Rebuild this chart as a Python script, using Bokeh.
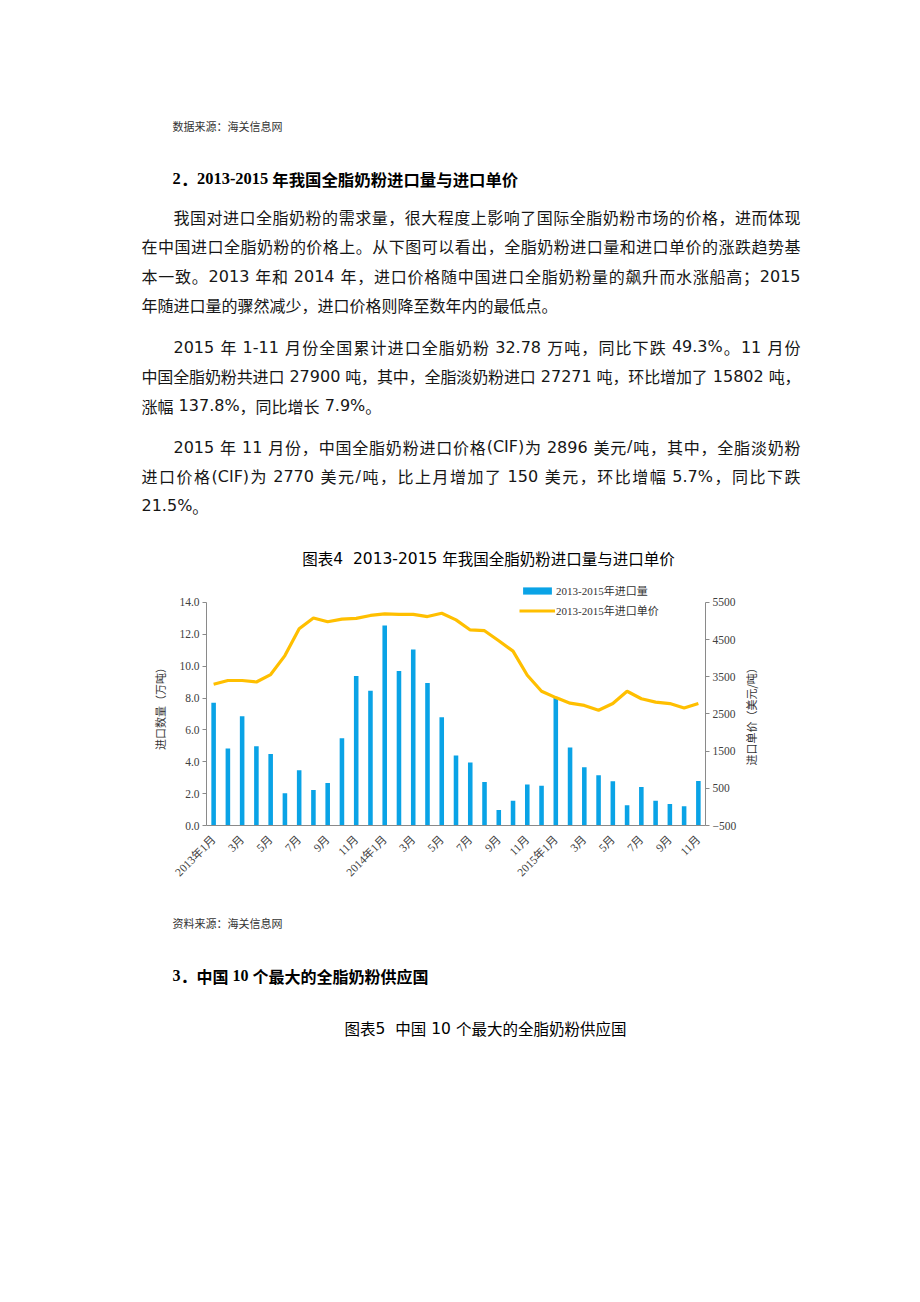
import math
from bokeh.plotting import figure
from bokeh.models import (Range1d, LinearAxis, FixedTicker, NumeralTickFormatter,
                          Legend, LegendItem, ColumnDataSource)
from bokeh.layouts import row
from bokeh.embed import file_html
from bokeh.resources import INLINE
from bokeh.core.properties import value

# ---------------- data ----------------
months = ["2013年1月", "2月", "3月", "4月", "5月", "6月", "7月", "8月", "9月", "10月", "11月", "12月",
          "2014年1月", "2月", "3月", "4月", "5月", "6月", "7月", "8月", "9月", "10月", "11月", "12月",
          "2015年1月", "2月", "3月", "4月", "5月", "6月", "7月", "8月", "9月", "10月", "11月"]
import_volume = [7.70, 4.83, 6.85, 4.98, 4.48, 2.02, 3.46, 2.23, 2.67, 5.48, 9.38, 8.46,
                 12.56, 9.69, 11.04, 8.94, 6.79, 4.40, 3.96, 2.73, 0.98, 1.56, 2.58, 2.50,
                 8.00, 4.90, 3.65, 3.15, 2.77, 1.27, 2.42, 1.56, 1.35, 1.21, 2.79]
import_price = [3300, 3400, 3400, 3360, 3560, 4070, 4790, 5080, 4980, 5050, 5070, 5150,
                5190, 5180, 5180, 5120, 5210, 5030, 4760, 4740, 4470, 4190, 3540, 3110,
                2940, 2790, 2730, 2600, 2780, 3110, 2910, 2820, 2780, 2660, 2780]
volume_ticks = [0, 2, 4, 6, 8, 10, 12, 14]
price_ticks = [-500, 500, 1500, 2500, 3500, 4500, 5500]
series_names = ["2013-2015年进口量", "2013-2015年进口单价"]
axis_titles = ["进口数量（万吨）", "进口单价（美元/吨）"]

source_1 = "数据来源：海关信息网"
heading_2 = "2．2013-2015 年我国全脂奶粉进口量与进口单价"
para_1 = ["我国对进口全脂奶粉的需求量，很大程度上影响了国际全脂奶粉市场的价格，进而体现",
          "在中国进口全脂奶粉的价格上。从下图可以看出，全脂奶粉进口量和进口单价的涨跌趋势基",
          "本一致。2013 年和 2014 年，进口价格随中国进口全脂奶粉量的飙升而水涨船高；2015",
          "年随进口量的骤然减少，进口价格则降至数年内的最低点。"]
para_2 = ["2015 年 1-11 月份全国累计进口全脂奶粉 32.78 万吨，同比下跌 49.3%。11 月份",
          "中国全脂奶粉共进口 27900 吨，其中，全脂淡奶粉进口 27271 吨，环比增加了 15802 吨，",
          "涨幅 137.8%，同比增长 7.9%。"]
para_3 = ["2015 年 11 月份，中国全脂奶粉进口价格(CIF)为 2896 美元/吨，其中，全脂淡奶粉",
          "进口价格(CIF)为 2770 美元/吨，比上月增加了 150 美元，环比增幅 5.7%，同比下跌",
          "21.5%。"]
caption_4 = "图表4  2013-2015 年我国全脂奶粉进口量与进口单价"
source_2 = "资料来源：海关信息网"
heading_3 = "3．中国 10 个最大的全脂奶粉供应国"
caption_5 = "图表5  中国 10 个最大的全脂奶粉供应国"

# ---------------- text layout helpers ----------------
SANS = {**{d: 0.636 for d in "0123456789"}, " ": 0.318, ".": 0.318, "-": 0.361, "%": 0.950,
        "(": 0.390, ")": 0.390, "/": 0.337, "C": 0.698, "I": 0.295, "F": 0.575}
SERIF = {**{d: 0.5 for d in "0123456789"}, " ": 0.25, ".": 0.25, "-": 0.333}
CJK = "Noto Sans CJK SC"
TICK_FONT = "Liberation Serif, Noto Sans CJK SC"
PAGE_W = 920


def is_wide(ch):
    return ord(ch) >= 0x2E80


def tokens_of(line, size, metrics):
    toks = []
    gap = 0.0
    run = ""
    for ch in line + "\0":
        if ch == "\0" or ch == " " or is_wide(ch):
            if run:
                toks.append((run, False, sum(metrics.get(c, 0.6) for c in run) * size, gap))
                gap = 0.0
                run = ""
            if ch == " ":
                gap += metrics[" "] * size
            elif ch != "\0":
                toks.append((ch, True, size, gap))
                gap = 0.0
        else:
            run += ch
    return toks


def new_src():
    return {k: [] for k in ("x", "y", "text", "font", "size", "style", "color")}


def place(src, line, x0, y, size, narrow_font, metrics, style="normal", color="#161616",
          right=None, center=None):
    toks = tokens_of(line, size, metrics)
    natural = sum(t[2] + t[3] for t in toks)
    if center is not None:
        x0 = center - natural / 2
    extra = 0.0
    if right is not None and len(toks) > 1:
        extra = (right - x0 - natural) / (len(toks) - 1)
    x = x0
    for i, (txt, wide, w, gap) in enumerate(toks):
        x += gap + (extra if i > 0 else 0.0)
        src["x"].append(x)
        src["y"].append(y)
        src["text"].append(txt)
        src["font"].append(CJK if wide else narrow_font)
        src["size"].append(f"{size}px")
        src["style"].append(style)
        src["color"].append(color)
        x += w


def paragraph(src, lines, y0, step, size=16, left=141, indent=32, right=800):
    for i, ln in enumerate(lines):
        last = i == len(lines) - 1
        place(src, ln, left + (indent if i == 0 else 0), y0 + i * step, size, "DejaVu Sans", SANS,
              right=None if last else right)


def page_fig(y_top, y_bot, src):
    f = figure(width=PAGE_W, height=y_bot - y_top, x_range=Range1d(0, PAGE_W),
               y_range=Range1d(y_bot, y_top),
               output_backend="svg", toolbar_location=None, x_axis_type=None, y_axis_type=None,
               min_border=0, outline_line_color=None, background_fill_color="white",
               border_fill_color="white")
    f.grid.visible = False
    f.text(x="x", y="y", text="text", source=ColumnDataSource(src), text_font="font",
           text_font_size="size", text_font_style="style", text_color="color",
           text_align="left", text_baseline="middle")
    return f


# ---------------- top text ----------------
top_src = new_src()
place(top_src, source_1, 172, 125, 11, "DejaVu Sans", SANS, color="#333333")
place(top_src, heading_2, 172, 178, 16.4, "Liberation Serif", SERIF, style="bold", color="#000000")
paragraph(top_src, para_1, 216, 29.5)
paragraph(top_src, para_2, 346, 29.5)
paragraph(top_src, para_3, 446, 29.5)
place(top_src, caption_4, 0, 557, 15.5, "DejaVu Sans", SANS, color="#000000", center=488)
top = page_fig(0, 575, top_src)

# ---------------- chart ----------------
CHART_W = 745
CHART_H = 310
B_TOP, B_BOT = 11, 59
xs = list(range(len(months)))
vol_top = 15.0   # frame extends a little above the 14.0 tick so the legend fits inside it
price_top = price_ticks[0] + (price_ticks[-1] - price_ticks[0]) * vol_top / volume_ticks[-1]
chart = figure(width=CHART_W, height=CHART_H, x_range=Range1d(-0.5, len(months) - 0.5),
               y_range=Range1d(0, vol_top),
               output_backend="svg", toolbar_location=None, min_border_left=206, min_border_right=40,
               min_border_top=B_TOP, min_border_bottom=B_BOT, outline_line_color=None,
               background_fill_color="white", border_fill_color="white")
chart.grid.visible = False
chart.extra_y_ranges = {"price": Range1d(price_ticks[0], price_top)}

bars = chart.vbar(x=xs, top=import_volume, width=0.32, fill_color="#0AA3E6", line_color=None)
line = chart.line(x=xs, y=import_price, y_range_name="price", line_color="#FFBF00", line_width=3.2)

axis_col = "#8a8a8a"
lab_col = "#404040"

xa = chart.xaxis[0]
xa.ticker = FixedTicker(ticks=xs[::2])
xa.major_label_overrides = {i: months[i] for i in xs[::2]}
xa.major_label_orientation = math.pi / 4
xa.major_tick_line_color = None
xa.minor_tick_line_color = None
xa.axis_line_color = axis_col
xa.major_label_text_font = TICK_FONT
xa.major_label_text_font_size = "11.5px"
xa.major_label_text_color = lab_col
xa.major_label_standoff = 6

ya = chart.yaxis[0]
ya.ticker = FixedTicker(ticks=volume_ticks)
ya.bounds = (volume_ticks[0], volume_ticks[-1])
ya.formatter = NumeralTickFormatter(format="0.0")
ya.axis_line_color = axis_col
ya.major_tick_line_color = axis_col
ya.major_tick_out = 4
ya.major_tick_in = 0
ya.minor_tick_line_color = None
ya.major_label_text_font = TICK_FONT
ya.major_label_text_font_size = "11.5px"
ya.major_label_text_color = lab_col
ya.major_label_standoff = 3
ya.axis_label = axis_titles[0]
ya.axis_label_text_font = CJK
ya.axis_label_text_font_size = "11px"
ya.axis_label_text_font_style = "normal"
ya.axis_label_text_color = "#333333"
ya.axis_label_standoff = 8

ra = LinearAxis(y_range_name="price", ticker=FixedTicker(ticks=price_ticks))
ra.bounds = (price_ticks[0], price_ticks[-1])
ra.axis_line_color = axis_col
ra.major_tick_line_color = axis_col
ra.major_tick_out = 4
ra.major_tick_in = 0
ra.minor_tick_line_color = None
ra.major_label_text_font = TICK_FONT
ra.major_label_text_font_size = "11.5px"
ra.major_label_text_color = lab_col
ra.major_label_standoff = 3
chart.add_layout(ra, "right")

legend = Legend(items=[LegendItem(label=series_names[0], renderers=[bars]),
                       LegendItem(label=series_names[1], renderers=[line])],
                location=(313, 207), orientation="vertical", padding=0, margin=0, spacing=4,
                glyph_width=36, glyph_height=9, label_height=14, label_standoff=1,
                label_text_font=TICK_FONT, label_text_font_size="11px",
                label_text_color="#333333", border_line_color=None, background_fill_alpha=0)
chart.add_layout(legend)

# right-hand axis title (reads bottom-to-top), drawn in a narrow companion panel
side = figure(width=PAGE_W - CHART_W, height=CHART_H, x_range=Range1d(0, PAGE_W - CHART_W),
              y_range=Range1d(0, vol_top), output_backend="svg", toolbar_location=None,
              x_axis_type=None, y_axis_type=None, min_border_left=0, min_border_right=0,
              min_border_top=B_TOP, min_border_bottom=B_BOT, outline_line_color=None,
              background_fill_color="white", border_fill_color="white")
side.grid.visible = False
side.text(x=[5], y=[(volume_ticks[0] + volume_ticks[-1]) / 2], text=[axis_titles[1]],
          angle=math.pi / 2, text_align="center", text_baseline="middle",
          text_font=value(CJK), text_font_size="11px", text_color="#333333")

chart_row = row(chart, side, spacing=0)

# ---------------- bottom text ----------------
bot_src = new_src()
place(bot_src, source_2, 172, 922, 11, "DejaVu Sans", SANS, color="#333333")
place(bot_src, heading_3, 172, 975, 16, "Liberation Serif", SERIF, style="bold", color="#000000")
place(bot_src, caption_5, 0, 1027, 15.5, "DejaVu Sans", SANS, color="#000000", center=485)
bottom = page_fig(885, 1302, bot_src)

open("out.html", "w").write(file_html([top, chart_row, bottom], INLINE))
